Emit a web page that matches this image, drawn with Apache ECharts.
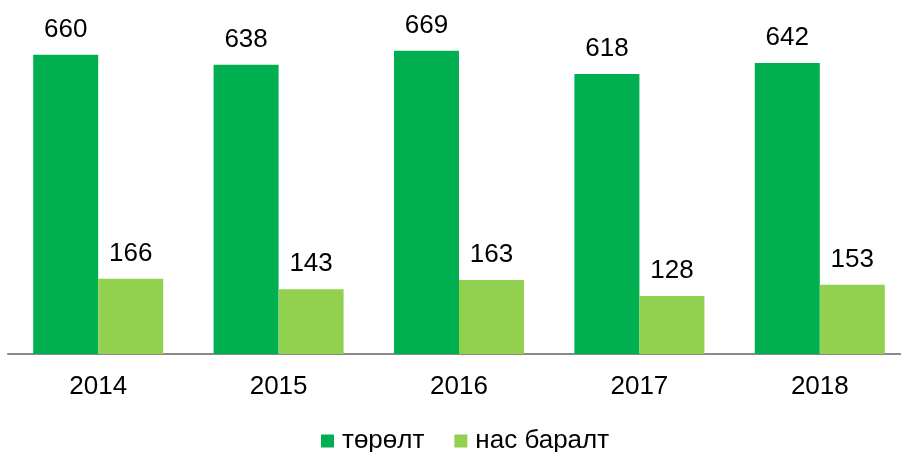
<!DOCTYPE html>
<html><head><meta charset="utf-8">
<script src="https://cdn.jsdelivr.net/npm/echarts@6/dist/echarts.min.js"></script>
<style>html,body{margin:0;padding:0;background:#fff}#c{width:901px;height:452px}</style>
</head><body><div id="c"></div>
<script>
const categories = ['2014','2015','2016','2017','2018'];
const births = [660, 638, 669, 618, 642];
const deaths = [166, 143, 163, 128, 153];
const seriesNames = ['төрөлт', 'нас баралт'];

const chart = echarts.init(document.getElementById('c'));
const font = 'Liberation Sans, Arial, sans-serif';
const label = {show:true, position:'top', distance:12, color:'#000', fontSize:26, fontFamily:font};
chart.setOption({
  animation:false,
  grid:{left:8, width:902, top:0, bottom:98, outerBoundsMode:'none'},
  legend:{bottom:-7, left:316, itemWidth:13, itemHeight:13, itemGap:30, icon:'rect',
    textStyle:{fontSize:26, fontFamily:font, color:'#000', padding:[0,0,0,3]}, data:seriesNames},
  xAxis:{type:'category', data:categories,
    axisLine:{lineStyle:{color:'#898989', width:2}}, axisTick:{show:false},
    axisLabel:{fontSize:26, fontFamily:font, color:'#000', margin:20}},
  yAxis:{type:'value', min:0, max:781, show:false, splitLine:{show:false}},
  series:[
    {name:seriesNames[0], type:'bar', data:births, barWidth:65, barGap:'0%', itemStyle:{color:'#00B050'}, label},
    {name:seriesNames[1], type:'bar', data:deaths, barWidth:65, barGap:'0%', itemStyle:{color:'#92D050'}, label}
  ]
});
</script></body></html>
